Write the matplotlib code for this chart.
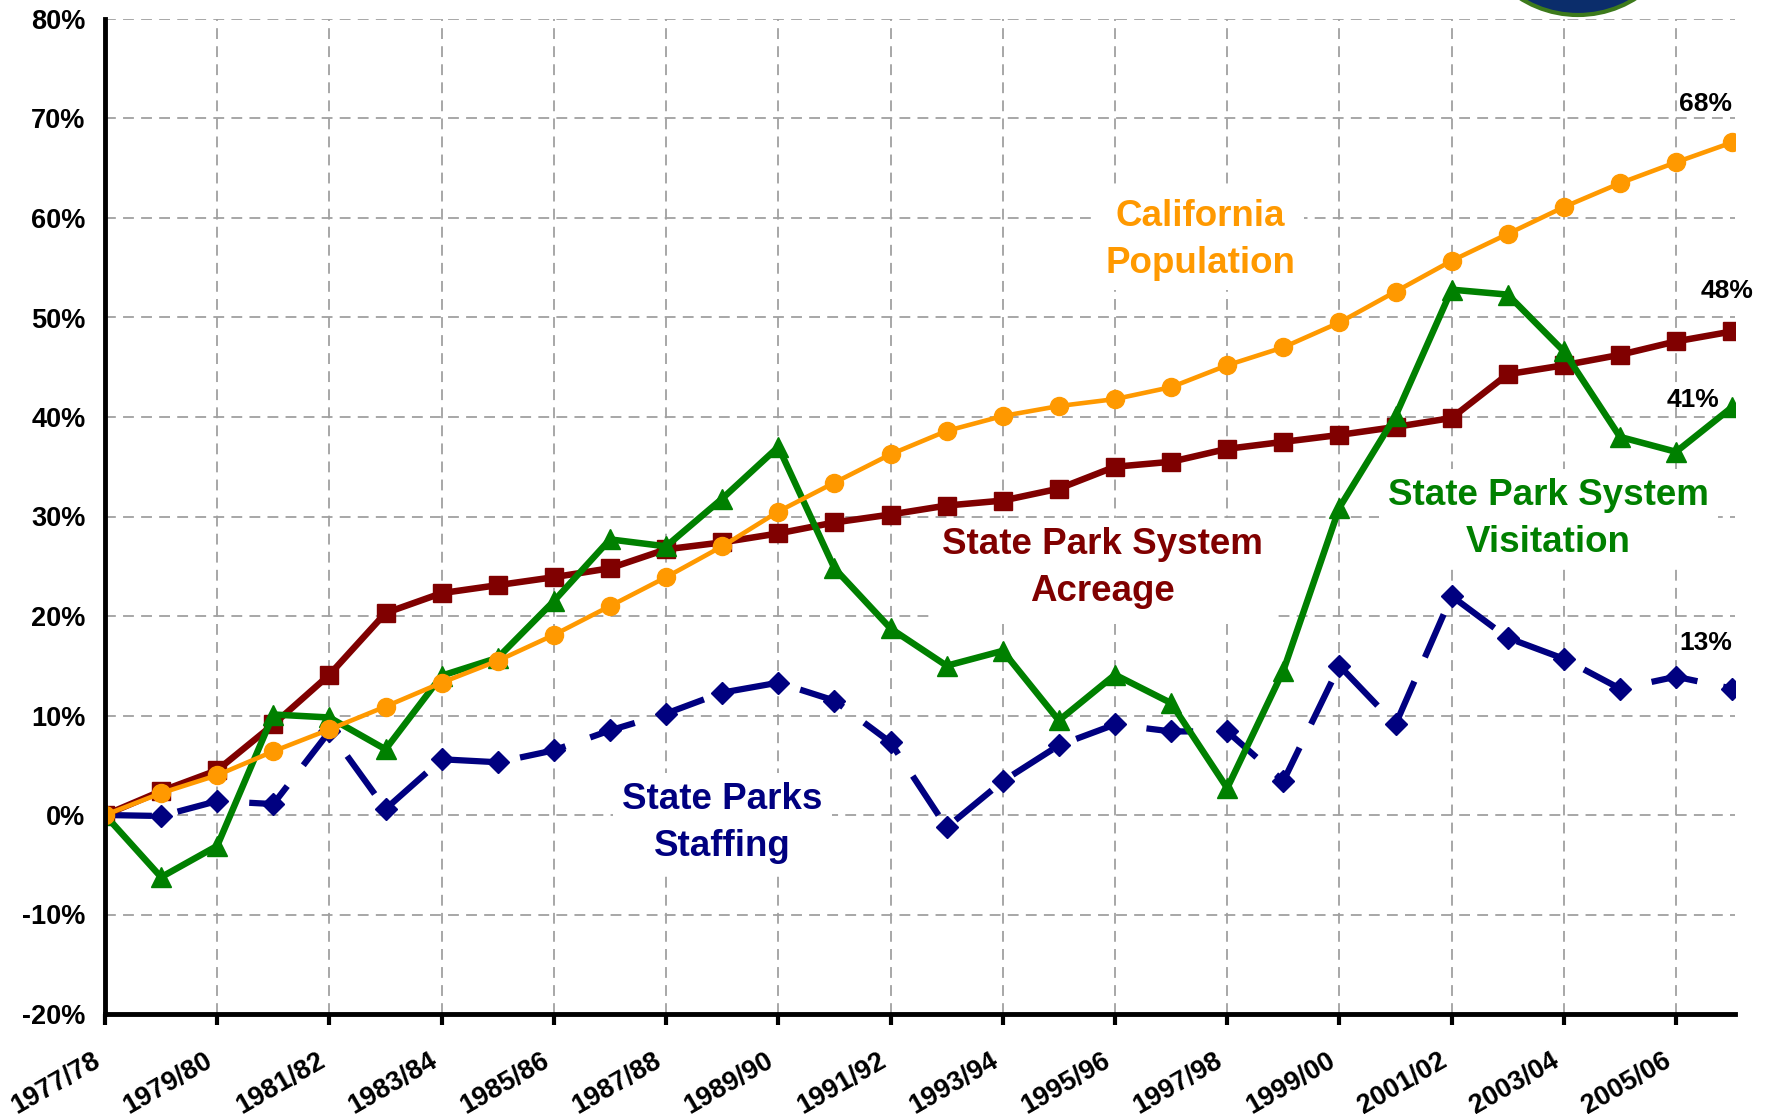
import matplotlib
matplotlib.use('Agg')
import matplotlib.pyplot as plt
import matplotlib.transforms as mtransforms
from matplotlib.patches import Ellipse

plt.rcParams['font.family'] = ['Liberation Sans', 'DejaVu Sans']
plt.rcParams['font.weight'] = 'bold'

# ---- data (percent change since 1977/78) ----
years = ['1977/78', '1978/79', '1979/80', '1980/81', '1981/82', '1982/83',
         '1983/84', '1984/85', '1985/86', '1986/87', '1987/88', '1988/89',
         '1989/90', '1990/91', '1991/92', '1992/93', '1993/94', '1994/95',
         '1995/96', '1996/97', '1997/98', '1998/99', '1999/00', '2000/01',
         '2001/02', '2002/03', '2003/04', '2004/05', '2005/06', '2006/07']

population = [0, 2.2, 4.0, 6.4, 8.6, 10.9, 13.3, 15.5, 18.1, 21.0,
              23.9, 27.0, 30.5, 33.4, 36.25, 38.6, 40.1, 41.1, 41.8, 43.0,
              45.2, 47.0, 49.5, 52.6, 55.7, 58.4, 61.1, 63.5, 65.6, 67.6]

acreage = [0, 2.4, 4.5, 9.1, 14.1, 20.3, 22.3, 23.1, 23.9, 24.8,
           26.7, 27.4, 28.3, 29.4, 30.2, 31.1, 31.6, 32.8, 35.0, 35.5,
           36.8, 37.5, 38.2, 39.0, 39.9, 44.3, 45.2, 46.25, 47.6, 48.6]

visitation = [0, -6.25, -3.1, 10.1, 9.8, 6.6, 14.0, 15.8, 21.5, 27.7,
              27.0, 31.8, 37.0, 24.8, 18.75, 15.0, 16.5, 9.5, 14.1, 11.25,
              2.7, 14.5, 30.9, 40.1, 52.8, 52.3, 46.6, 38.0, 36.5, 41.0]

staffing = [0, -0.1, 1.4, 1.1, 8.4, 0.6, 5.6, 5.3, 6.5, 8.5,
            10.2, 12.3, 13.3, 11.5, 7.3, -1.25, 3.4, 7.0, 9.1, 8.4,
            8.4, 3.4, 15.0, 9.1, 22.0, 17.8, 15.7, 12.7, 13.9, 12.7]

end_labels = ['68%', '48%', '41%', '13%']

ORANGE = '#FF9900'
MAROON = '#800000'
GREEN = '#008000'
NAVY = '#000080'

W, H = 1772, 1116
fig = plt.figure(figsize=(W / 100, H / 100), dpi=100)
fig.patch.set_facecolor('white')
ax = fig.add_axes([105 / W, 1 - 1014 / H, (1735 - 105) / W, (1014 - 19) / H])

x = list(range(len(years)))

ax.plot(x, staffing, color=NAVY, lw=4.5, dashes=(7.5, 4.2), marker='D', ms=11.5,
        mfc=NAVY, mec=NAVY, zorder=3)
ax.plot(x, acreage, color=MAROON, lw=4.7, marker='s', ms=12.5,
        mfc=MAROON, mec=MAROON, zorder=4)
ax.plot(x, visitation, color=GREEN, lw=4.7, marker='^', ms=15,
        mfc=GREEN, mec=GREEN, zorder=5)
ax.plot(x, population, color=ORANGE, lw=3.3, marker='o', ms=13,
        mfc=ORANGE, mec=ORANGE, zorder=6)

ax.set_xlim(0, 29.05)
ax.set_ylim(-20, 80)
ax.tick_params(axis='y', length=0, pad=14)
ax.tick_params(axis='x', direction='out', length=8, width=3, pad=16)

ax.set_yticks(range(-20, 81, 10))
ax.set_yticklabels([f'{v}%' for v in range(-20, 81, 10)], fontsize=19.5,
                   fontweight='bold')
ax.set_xticks(x[::2])
ax.set_xticklabels(years[::2], rotation=30, ha='right', va='top',
                   rotation_mode='anchor', fontsize=19.5, fontweight='bold')
# nudge the slanted year labels a little left of their ticks
shift = mtransforms.ScaledTranslation(-0.13, 0, fig.dpi_scale_trans)
for tick in ax.xaxis.get_major_ticks():
    tick.label1.set_transform(tick.label1.get_transform() + shift)

ax.grid(True, color='#a0a0a0', linestyle=(0, (6, 4)), linewidth=1.3, zorder=1)
ax.set_axisbelow(True)

for s in ['top', 'right']:
    ax.spines[s].set_visible(False)
for s in ['left', 'bottom']:
    ax.spines[s].set_linewidth(3.5)
    ax.spines[s].set_zorder(7)

box = dict(boxstyle='square,pad=0.25', facecolor='white', edgecolor='none')
label_kw = dict(fontsize=26.5, fontweight='bold', ha='center', va='center',
                linespacing=1.45, bbox=box, zorder=2.5)
ax.text(19.52, 57.8, 'California\nPopulation', color=ORANGE, **label_kw)
ax.text(17.77, 24.8, 'State Park System\nAcreage', color=MAROON, **label_kw)
ax.text(25.72, 29.75, 'State Park System\nVisitation', color=GREEN, **label_kw)
ax.text(11.0, -0.8, 'State Parks\nStaffing', color=NAVY, **label_kw)

end_pos = [(28.52, 71.5), (28.9, 52.7), (28.3, 41.7), (28.53, 17.3)]
for (px, py), lab in zip(end_pos, end_labels):
    ax.text(px, py, lab, fontsize=19, fontweight='bold', color='black',
            ha='center', va='center', zorder=8)

# seal partially visible at top edge
seal = Ellipse((1578 / W, 1 - (15 - 108) / H), 216 / W, 216 / H,
               transform=fig.transFigure, facecolor='#0b2d6b',
               edgecolor='#3d7a1c', linewidth=3, zorder=10)
fig.add_artist(seal)

fig.savefig('out.png', dpi=100, facecolor='white')
